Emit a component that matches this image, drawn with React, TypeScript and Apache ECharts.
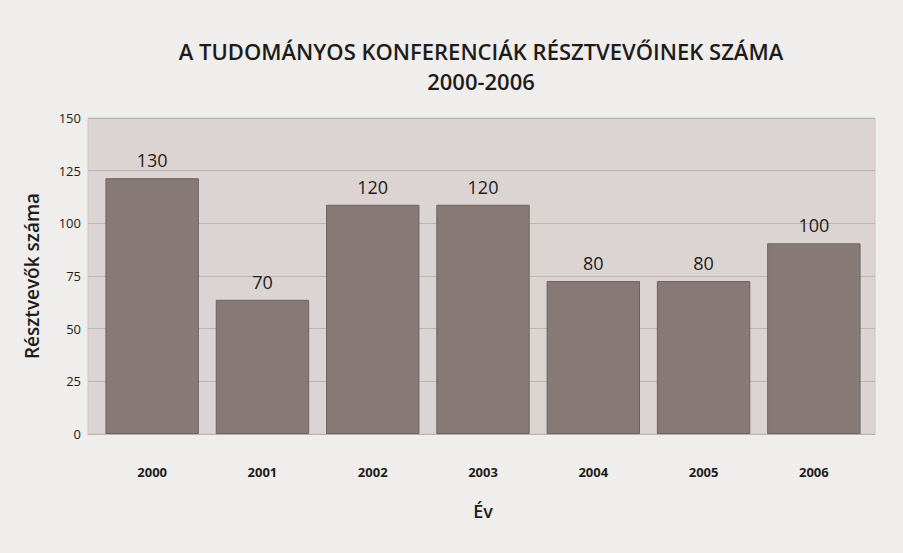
import React, { useEffect, useRef } from "react";
import * as echarts from "echarts";

const categories = ["2000", "2001", "2002", "2003", "2004", "2005", "2006"];
const barValues = [121.4, 63.7, 108.8, 108.8, 72.6, 72.6, 90.5];
const labelValues = ["130", "70", "120", "120", "80", "80", "100"];
const yTicks = [0, 25, 50, 75, 100, 125, 150];
const titleLine1 = "A TUDOMÁNYOS KONFERENCIÁK RÉSZTVEVŐINEK SZÁMA";
const titleLine2 = "2000-2006";
const xAxisName = "Év";
const yAxisName = "Résztvevők száma";

const FONT = "Open Sans";
const TEXT = "#1f1b1a";

export default function App() {
  const ref = useRef<HTMLDivElement>(null);
  useEffect(() => {
    document.body.style.margin = "0";
    const chart = echarts.init(ref.current!, null, { renderer: "svg" });
    const titleStyle = {
      fill: TEXT,
      fontFamily: FONT,
      fontWeight: 600,
      fontSize: 22,
      align: "center",
      verticalAlign: "middle",
    };
    chart.setOption({
      animation: false,
      backgroundColor: "#efeeec",
      graphic: [
        { type: "text", x: 481, y: 51, style: { ...titleStyle, text: titleLine1 } },
        { type: "text", x: 481, y: 81, style: { ...titleStyle, text: titleLine2 } },
      ],
      grid: [
        { left: 88, right: 28, top: 118, bottom: 119, show: true, backgroundColor: "#dcd4d2", borderColor: "#cfc8c6", borderWidth: 1 },
        { left: 97, right: 34, top: 118, bottom: 119 },
      ],
      xAxis: [
        {
          gridIndex: 0,
          type: "category",
          data: categories,
          axisLine: { show: true, lineStyle: { color: "#b8b0ae" } },
          axisTick: { show: false },
          axisLabel: { show: false },
        },
        {
          gridIndex: 1,
          type: "category",
          data: categories,
          name: xAxisName,
          nameLocation: "middle",
          nameGap: 68,
          nameTextStyle: { fontFamily: FONT, fontWeight: 600, fontSize: 18, color: TEXT },
          axisLine: { show: false },
          axisTick: { show: false },
          axisLabel: { margin: 31, fontFamily: FONT, fontWeight: 700, fontSize: 13, color: TEXT },
        },
      ],
      yAxis: [
        {
          gridIndex: 0,
          type: "value",
          min: 0,
          max: 150,
          interval: 25,
          name: yAxisName,
          nameLocation: "middle",
          nameGap: 47,
          nameTextStyle: { fontFamily: FONT, fontWeight: 600, fontSize: 19, color: TEXT },
          axisLine: { show: false },
          axisTick: { show: false },
          axisLabel: {
            margin: 7,
            fontFamily: FONT,
            fontSize: 13,
            color: TEXT,
            formatter: (v: number) => (yTicks.includes(v) ? String(v) : ""),
          },
          splitLine: { lineStyle: { color: "#bdb4b2", width: 1 } },
        },
        {
          gridIndex: 1,
          type: "value",
          min: 0,
          max: 150,
          interval: 25,
          axisLine: { show: false },
          axisTick: { show: false },
          axisLabel: { show: false },
          splitLine: { show: false },
        },
      ],
      series: [
        {
          type: "bar",
          xAxisIndex: 1,
          yAxisIndex: 1,
          data: barValues,
          barCategoryGap: "15.3%",
          itemStyle: { color: "#877a76", borderColor: "#6e6260", borderWidth: 1 },
          label: {
            show: true,
            position: "top",
            distance: 9,
            fontFamily: FONT,
            fontSize: 18,
            color: TEXT,
            formatter: (p: any) => labelValues[p.dataIndex],
          },
        },
      ],
    });
    return () => chart.dispose();
  }, []);
  return <div ref={ref} style={{ width: 903, height: 553 }} />;
}
